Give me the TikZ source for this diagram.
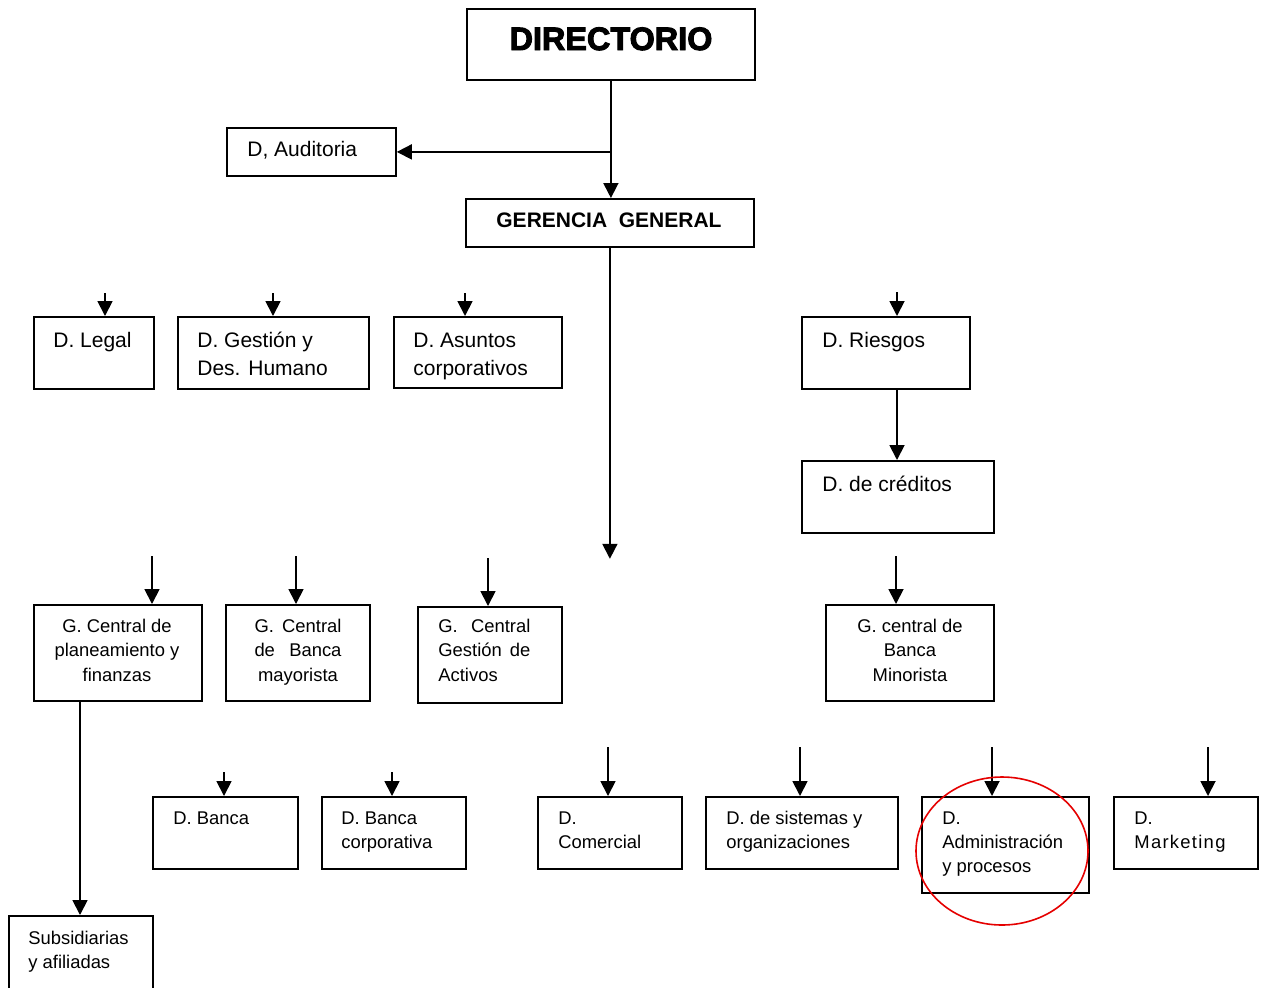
\documentclass[tikz,border=0pt]{standalone}
\usepackage{fontspec}
\setmainfont{Liberation Sans}
\newfontfamily\heavyfont[FakeBold=3]{Liberation Sans Bold}
\usetikzlibrary{arrows.meta}

% stacked lines whose baseline is the baseline of the first line
\newcommand\leftlines[2]{\vtop{\baselineskip=#1\relax\halign{##\hfil\cr#2\crcr}}}
\newcommand\centerlines[2]{\vtop{\baselineskip=#1\relax\halign{\hfil##\hfil\cr#2\crcr}}}

% a box given by its corners (left, top, right, bottom)
\newcommand\orgbox[5]{%
  \node[orgrect, minimum width={(#4-#2)*0.5pt}, minimum height={(#5-#3)*0.5pt}] (#1) at (#2,#3) {};}

\tikzset{
  orgrect/.style={draw, rectangle, line width=0.9pt, inner sep=0pt, anchor=north west},
  uptext/.style={inner sep=0pt, anchor=base west, font=\fontsize{10.5}{14}\selectfont},
  lowtext/.style={inner sep=0pt, anchor=base west, font=\fontsize{9.2}{12.25}\selectfont},
  lowmid/.style={lowtext, anchor=base},
  link/.style={line width=0.9pt, -{Triangle[length=7.5pt,width=7.5pt]}},
  mark ring/.style={draw=red!90!black, line width=0.8pt},
}

\begin{document}
\begin{tikzpicture}[x=0.5pt, y=-0.5pt]
\useasboundingbox (0,0) rectangle (1264,987);
\clip (0,0) rectangle (1264,987);
\fill[white] (0,0) rectangle (1264,987);

% ---------- top of the chart ----------
\orgbox{dir}{466}{8}{754}{79}
\node[inner sep=0pt, anchor=base, font=\heavyfont\fontsize{16.2}{18}\selectfont] (dir-t) at (611,50) {DIRECTORIO};

\orgbox{gg}{465}{198}{753}{246}
\node[inner sep=0pt, anchor=base, font=\bfseries\fontsize{10.5}{12}\selectfont] (gg-t) at (609,227) {GERENCIA\ \ GENERAL};

\orgbox{aud}{226}{127}{395}{175}
\node[uptext] (aud-t) at (247,156) {D, Auditoria};

\draw[link] (dir.south) -- (dir.south |- gg.north);
\draw[link] (dir.south |- aud.east) -- (aud.east);

\path (gg.south) ++(0,311) coordinate (gg-end);
\draw[link] (gg.south) -- (gg-end);

% ---------- first row of departments ----------
\orgbox{legal}{33}{316}{153}{388}
\node[uptext] (legal-t) at (53,347) {D. Legal};

\orgbox{gest}{177}{316}{368}{388}
\node[uptext] (gest-t) at (197,347) {\leftlines{14pt}{D. Gestión y\cr Des. Humano}};

\orgbox{asun}{393}{316}{561}{387}
\node[uptext] (asun-t) at (413,347) {\leftlines{14pt}{D. Asuntos\cr corporativos}};

\orgbox{ries}{801}{316}{969}{388}
\node[uptext] (ries-t) at (822,347) {D. Riesgos};

\orgbox{cred}{801}{460}{993}{532}
\node[uptext] (cred-t) at (822,491) {D. de créditos};

\coordinate (s-legal) at (105,293);
\coordinate (s-gest) at (273,293);
\coordinate (s-asun) at (465,293);
\coordinate (s-ries) at (897,292);
\draw[link] (s-legal) -- (s-legal |- legal.north);
\draw[link] (s-gest) -- (s-gest |- gest.north);
\draw[link] (s-asun) -- (s-asun |- asun.north);
\draw[link] (s-ries) -- (s-ries |- ries.north);
\draw[link] (s-ries |- ries.south) -- (s-ries |- cred.north);

% ---------- central managements ----------
\orgbox{plan}{33}{604}{201}{700}
\node[lowmid] (plan-t) at (117,632) {\centerlines{12.25pt}{G. Central de\cr planeamiento y\cr finanzas}};

\orgbox{may}{225}{604}{369}{700}
\node[lowmid] (may-t) at (298,632) {\centerlines{12.25pt}{\hbox to 43.5pt{G.\hfil Central}\cr \hbox to 43.5pt{de\hfil Banca}\cr mayorista}};

\orgbox{act}{417}{606}{561}{702}
\node[lowtext] (act-t) at (438,632) {\leftlines{12.25pt}{\hbox to 46pt{G.\hfil Central}\cr \hbox to 46pt{Gestión\hfil de}\cr Activos}};

\orgbox{mino}{825}{604}{993}{700}
\node[lowmid] (mino-t) at (910,632) {\centerlines{12.25pt}{G. central de\cr Banca\cr Minorista}};

\coordinate (s-plan) at (152,556);
\coordinate (s-may) at (296,556);
\coordinate (s-act) at (488,558);
\coordinate (s-mino) at (896,556);
\draw[link] (s-plan) -- (s-plan |- plan.north);
\draw[link] (s-may) -- (s-may |- may.north);
\draw[link] (s-act) -- (s-act |- act.north);
\draw[link] (s-mino) -- (s-mino |- mino.north);

% ---------- subsidiaries ----------
\orgbox{subs}{8}{915}{152}{1010}
\node[lowtext] (subs-t) at (28,944) {\leftlines{12pt}{Subsidiarias\cr y afiliadas}};
\coordinate (subx) at (80,0);
\draw[link] (plan.south -| subx) -- (subs.north -| subx);

% ---------- lower row of departments ----------
\orgbox{banca}{152}{796}{297}{868}
\node[lowtext] (banca-t) at (173,824) {D. Banca};

\orgbox{corp}{321}{796}{465}{868}
\node[lowtext] (corp-t) at (341,824) {\leftlines{12pt}{D. Banca\cr corporativa}};

\orgbox{com}{537}{796}{681}{868}
\node[lowtext] (com-t) at (558,824) {\leftlines{12pt}{D.\cr Comercial}};

\orgbox{sis}{705}{796}{897}{868}
\node[lowtext] (sis-t) at (726,824) {\leftlines{12pt}{D. de sistemas y\cr organizaciones}};

\orgbox{adm}{921}{796}{1088}{892}
\node[lowtext] (adm-t) at (942,824) {\leftlines{12pt}{D.\cr Administración\cr y procesos}};

\orgbox{mkt}{1113}{796}{1257}{868}
\node[lowtext] (mkt-t) at (1134,824) {\leftlines{12pt}{D.\cr {\addfontfeature{LetterSpace=7}Marketing}}};

\coordinate (s-banca) at (224,772);
\coordinate (s-corp) at (392,772);
\coordinate (s-com) at (608,747);
\coordinate (s-sis) at (800,747);
\coordinate (s-adm) at (992,747);
\coordinate (s-mkt) at (1208,747);
\draw[link] (s-banca) -- (s-banca |- banca.north);
\draw[link] (s-corp) -- (s-corp |- corp.north);
\draw[link] (s-com) -- (s-com |- com.north);
\draw[link] (s-sis) -- (s-sis |- sis.north);
\draw[link] (s-adm) -- (s-adm |- adm.north);
\draw[link] (s-mkt) -- (s-mkt |- mkt.north);

% ---------- highlight ----------
\draw[mark ring] (1002,851) ellipse [x radius=86, y radius=74];
\end{tikzpicture}
\end{document}
